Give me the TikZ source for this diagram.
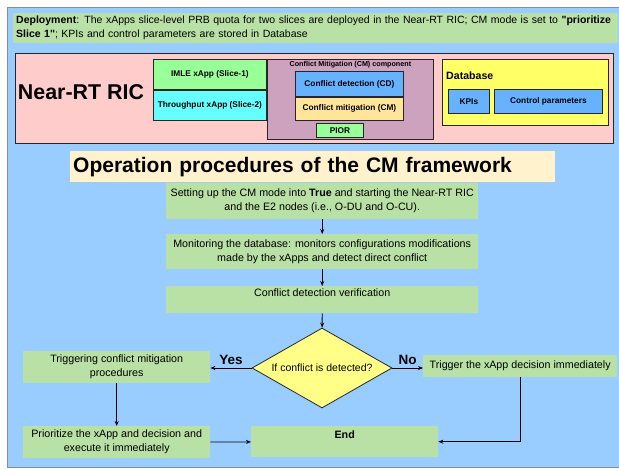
\documentclass[tikz,border=0pt]{standalone}
\usepackage{fontspec}
\setmainfont{Liberation Sans}
\usetikzlibrary{arrows.meta,positioning,calc,shapes.geometric}
\definecolor{skyback}{HTML}{99CCFF}
\definecolor{leaf}{HTML}{B9E0A5}
\definecolor{rose}{HTML}{FFCCCC}
\definecolor{mint}{HTML}{99FF99}
\definecolor{aqua}{HTML}{66FFFF}
\definecolor{mauve}{HTML}{CDA2BE}
\definecolor{azure}{HTML}{66B2FF}
\definecolor{sand}{HTML}{FFE599}
\definecolor{lemon}{HTML}{FFFF66}
\definecolor{cream}{HTML}{FFF2CC}
\definecolor{pale}{HTML}{FFFF88}
\tikzset{
  panel/.style={draw=black!85,line width=0.8pt,anchor=north west,inner sep=0pt},
  cell/.style={draw=black!85,line width=0.8pt,anchor=north west,inner sep=0pt,align=center,
    font=\bfseries\fontsize{8.3}{10}\selectfont},
  stepbox/.style={fill=leaf,anchor=north west,inner sep=0pt,align=center,
    font=\fontsize{10.7}{14}\selectfont},
  arr/.style={-{Stealth[length=5pt,width=4pt]},line width=0.8pt,draw=black},
  yesno/.style={font=\bfseries\fontsize{13.5}{15}\selectfont,inner sep=0pt}
}

\begin{document}
\begin{tikzpicture}[x=1pt,y=-1pt]
 \useasboundingbox (0,0) rectangle (619,470);
 \draw[draw=black!45,line width=0.8pt,fill=skyback] (7,7) rectangle (640,467);
 % deployment banner
 \node[fill=leaf,anchor=north west,inner sep=0pt,minimum width=605pt,minimum height=30pt,
   text width=599pt,align=left,font=\fontsize{10.5}{14}\selectfont] (deploy) at (13,13)
   {\textbf{Deployment}: The xApps slice-level PRB quota for two slices are deployed in the Near-RT RIC; CM mode is set to \textbf{\textquotedbl prioritize}\\
    \textbf{Slice 1\textquotedbl}; KPIs and control parameters are stored in Database};
 % Near-RT RIC
 \node[panel,fill=rose,minimum width=598pt,minimum height=90pt] (ric) at (15,53) {};
 \node[font=\bfseries\fontsize{21.4}{24}\selectfont] (ricname) at (81,92) {Near-RT RIC};
 \node[cell,fill=mint,minimum width=113pt,minimum height=30pt] (imle) at (153,59) {IMLE xApp (Slice-1)};
 \node[cell,fill=aqua,minimum width=113pt,minimum height=30pt] (thru) at (imle.south west) {Throughput xApp (Slice-2)};
 \node[panel,fill=mauve,minimum width=166pt,minimum height=80pt] (cmc) at (267,59) {};
 \node[anchor=north,inner sep=2pt,font=\bfseries\fontsize{7.2}{8}\selectfont] (cmctitle) at (cmc.north) {Conflict Mitigation (CM) component};
 \node[cell,fill=azure,minimum width=108pt,minimum height=25pt] (cd) at (295,71) {Conflict detection (CD)};
 \node[cell,fill=sand,minimum width=108pt,minimum height=23pt] (cm) at (cd.south west) {Conflict mitigation (CM)};
 \node[cell,fill=mint,minimum width=47pt,minimum height=14pt] (pior) at (316,123) {PIOR};
 \node[panel,fill=lemon,minimum width=166pt,minimum height=66pt] (db) at (442,59) {};
 \node[anchor=west,inner sep=0pt,font=\bfseries\fontsize{10.6}{12}\selectfont] (dbtitle) at (446,76) {Database};
 \node[cell,fill=azure,minimum width=41pt,minimum height=24pt] (kpi) at (448,89) {KPIs};
 \node[cell,fill=azure,minimum width=108pt,minimum height=24pt] (ctrl) at (494,89) {Control parameters};
 % procedures
 \node[fill=cream,anchor=north west,inner sep=0pt,minimum width=485pt,minimum height=31pt,
   text width=479pt,align=left,font=\bfseries\fontsize{21}{24}\selectfont] (heading) at (70,151)
   {Operation procedures of the CM framework};
 \node[stepbox,minimum width=312pt,minimum height=36pt] (setup) at (166,183)
   {Setting up the CM mode into \textbf{True} and starting the Near-RT RIC\\and the E2 nodes (i.e., O-DU and O-CU).};
 \node[stepbox,minimum width=312pt,minimum height=35pt] (monitor) at (166,234)
   {Monitoring the database: monitors configurations modifications\\made by the xApps and detect direct conflict};
 \node[stepbox,minimum width=312pt,minimum height=27pt] (verify) at (166,286)
   {Conflict detection verification\\\mbox{}};
 \node[diamond,aspect=1.75,draw=black!85,line width=0.8pt,fill=pale,minimum width=140pt,minimum height=80pt,
   inner sep=0pt,font=\fontsize{10.5}{12}\selectfont] (check) at (322,368) {If conflict is detected?};
 \node[stepbox,minimum width=187pt,minimum height=32pt] (mitig) at (23,351)
   {Triggering conflict mitigation\\procedures};
 \node[stepbox,minimum width=194pt,minimum height=22pt] (direct) at (423,355)
   {Trigger the xApp decision immediately};
 \node[stepbox,minimum width=187pt,minimum height=32pt] (prio) at (23,426)
   {Prioritize the xApp and decision and\\execute it immediately};
 \node[stepbox,minimum width=187pt,minimum height=31pt,font=\bfseries\fontsize{10.7}{14}\selectfont] (finish) at (251,426)
   {End\\\mbox{}};
 \draw[arr] (setup) -- (monitor);
 \draw[arr] (monitor) -- (verify);
 \draw[arr] (verify) -- (check);
 \draw[arr] (check.west) -- node[yesno,above=3pt] {Yes} (check.west -| mitig.east);
 \draw[arr] (check.east) -- node[yesno,above=3pt] {No} (check.east -| direct.west);
 \draw[arr] (mitig) -- (prio);
 \draw[arr] (prio) -- (finish);
 \draw[arr] (direct.south) |- (finish.east);
\end{tikzpicture}
\end{document}
